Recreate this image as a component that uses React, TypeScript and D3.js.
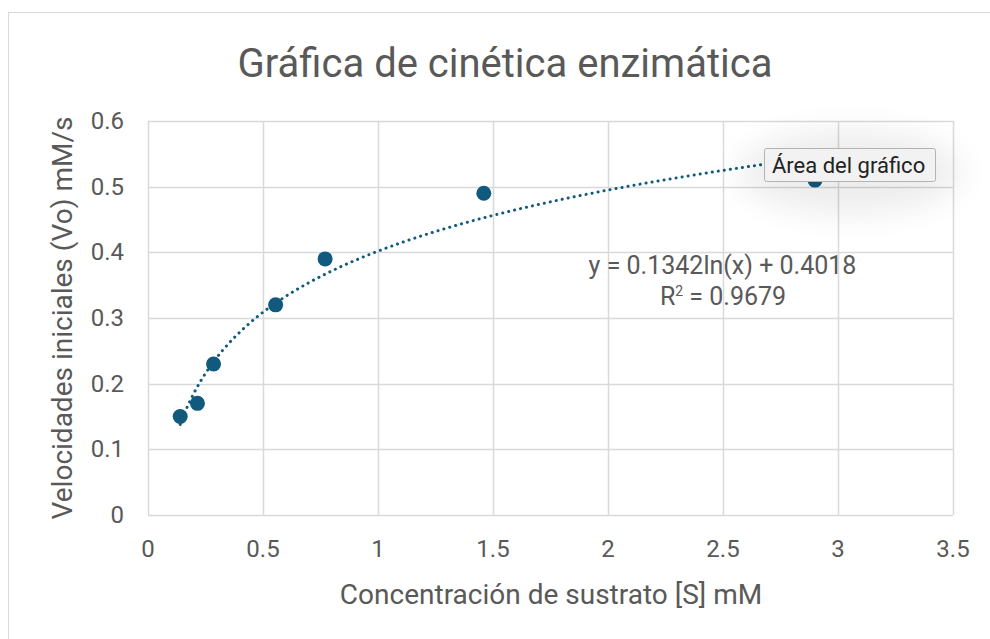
import React from "react";
import * as d3 from "d3";

const substrate = [0.14, 0.215, 0.285, 0.555, 0.77, 1.46, 2.9];
const velocity = [0.15, 0.17, 0.23, 0.32, 0.39, 0.49, 0.51];
const xTicks = [0, 0.5, 1, 1.5, 2, 2.5, 3, 3.5];
const yTicks = [0, 0.1, 0.2, 0.3, 0.4, 0.5, 0.6];
const trendCoef = [0.1342, 0.4018];
const trendSamples = d3.range(0, 81).map((i) => i / 80);

const W = 990;
const H = 639;
const left = 148, right = 953, top = 121, bottom = 515;
const color = "#12597e";
const textColor = "#595959";
const font = "Roboto, 'Liberation Sans', Arial, sans-serif";

export default function App() {
  const x = d3.scaleLinear().domain([0, 3.5]).range([left, right]);
  const y = d3.scaleLinear().domain([0, 0.6]).range([bottom, top]);
  const x0 = d3.min(substrate)!;
  const x1 = d3.max(substrate)!;
  const trendPts = trendSamples.map((t) => {
    const xv = x0 * Math.pow(x1 / x0, t);
    return [xv, trendCoef[0] * Math.log(xv) + trendCoef[1]] as [number, number];
  });
  const line = d3
    .line<[number, number]>()
    .x((d) => x(d[0]))
    .y((d) => y(d[1]))
    .curve(d3.curveMonotoneX);

  return (
    <svg
      width={W}
      height={H}
      style={{ position: "absolute", left: 0, top: 0, fontFamily: font }}
    >
      <defs>
        <filter id="glow" x="-50%" y="-100%" width="200%" height="300%">
          <feGaussianBlur stdDeviation="16" />
        </filter>
      </defs>
      <rect x={0} y={0} width={W} height={H} fill="#fff" />
      <rect x={8.5} y={12.5} width={W} height={H} fill="#fff" stroke="#d9d9d9" strokeWidth={1} />
      <text x={505} y={77} textAnchor="middle" fontSize={40} fill={textColor}>
        Gráfica de cinética enzimática
      </text>
      {yTicks.map((t) => (
        <g key={"y" + t}>
          <line x1={left} x2={right} y1={Math.round(y(t)) + 0.5} y2={Math.round(y(t)) + 0.5} stroke="#d9d9d9" strokeWidth={1.5} />
          <text x={124} y={y(t) + 8} textAnchor="end" fontSize={24} fill={textColor}>
            {t}
          </text>
        </g>
      ))}
      {xTicks.map((t) => (
        <g key={"x" + t}>
          <line y1={top} y2={bottom} x1={Math.round(x(t)) + 0.5} x2={Math.round(x(t)) + 0.5} stroke="#d9d9d9" strokeWidth={1.5} />
          <text x={x(t)} y={557} textAnchor="middle" fontSize={24} fill={textColor}>
            {t}
          </text>
        </g>
      ))}
      <text x={551} y={604} textAnchor="middle" fontSize={28} fill={textColor}>
        Concentración de sustrato [S] mM
      </text>
      <text
        transform={`translate(72,${(top + bottom) / 2}) rotate(-90)`}
        textAnchor="middle"
        fontSize={28}
        fill={textColor}
      >
        Velocidades iniciales (Vo) mM/s
      </text>
      <path
        d={line(trendPts) || ""}
        fill="none"
        stroke={color}
        strokeWidth={3}
        strokeLinecap="round"
        strokeDasharray="0.1 6"
      />
      {substrate.map((s, i) => (
        <circle key={i} cx={x(s)} cy={y(velocity[i])} r={7.5} fill={color} />
      ))}
      <text x={722.5} y={274} textAnchor="middle" fontSize={25} fill={textColor}>
        y = 0.1342ln(x) + 0.4018
      </text>
      <text x={723} y={305} textAnchor="middle" fontSize={25} fill={textColor}>
        R
        <tspan dy={-9} fontSize={14}>2</tspan>
        <tspan dy={9}> = 0.9679</tspan>
      </text>
      <ellipse cx={850} cy={172} rx={112} ry={42} fill="#000" opacity={0.07} filter="url(#glow)" />
      <rect x={764.5} y={148.5} width={171} height={33} rx={2} fill="#f2f2f2" stroke="#b3b3b3" strokeWidth={1} />
      <text x={772} y={173} fontSize={22} fill="#222">
        Área del gráfico
      </text>
    </svg>
  );
}
